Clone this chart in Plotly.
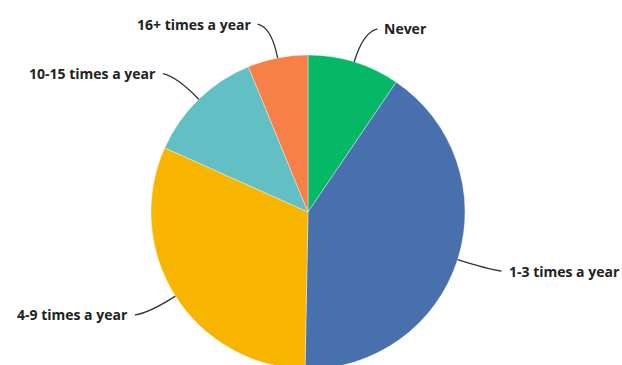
import math
import plotly.graph_objects as go

labels = ["Never", "1-3 times a year", "4-9 times a year", "10-15 times a year", "16+ times a year"]
values = [9.5, 40.8, 31.4, 12.1, 6.2]
colors = ["#05B866", "#4870AD", "#F7B500", "#62BFC4", "#F77F48"]

W, H = 622, 370
CX, CY, R = 308, 212, 157  # pixel geometry of the pie

fig = go.Figure(go.Pie(
    labels=labels, values=values, sort=False, direction="clockwise", rotation=0,
    marker=dict(colors=colors, line=dict(color="rgba(255,255,255,0.6)", width=0.6)),
    textinfo="none", hoverinfo="label+percent", showlegend=False,
    domain=dict(x=[(CX - R) / W, (CX + R) / W], y=[1 - (CY + R) / H, 1 - (CY - R) / H]),
))

def px2paper(x, y):
    return x / W, 1 - y / H

total = sum(values)
cum = 0
shapes, annotations = [], []
for lab, v in zip(labels, values):
    mid = (cum + v / 2) / total * 2 * math.pi
    cum += v
    s, c = math.sin(mid), math.cos(mid)
    p0 = (CX + R * s, CY - R * c)
    p1 = (CX + 1.2 * R * s, CY - 1.2 * R * c)
    side = 1 if s >= 0 else -1
    dy = -3 if c > 0 else 2
    p2 = (p1[0] + side * 14, p1[1] + dy)
    a0, a1, a2 = px2paper(*p0), px2paper(*p1), px2paper(*p2)
    shapes.append(dict(type="path", xref="paper", yref="paper",
                       path=f"M {a0[0]},{a0[1]} Q {a1[0]},{a1[1]} {a2[0]},{a2[1]}",
                       line=dict(color="#333333", width=1.3)))
    tx = px2paper(p2[0] + side * 5, p2[1])
    annotations.append(dict(x=tx[0], y=tx[1], xref="paper", yref="paper", text=f"<b>{lab}</b>",
                            showarrow=False, xanchor="left" if side > 0 else "right", yanchor="middle",
                            font=dict(family="Open Sans, Roboto, sans-serif", size=14, color="#222222")))

fig.update_layout(width=W, height=H, margin=dict(l=0, r=0, t=0, b=0),
                  paper_bgcolor="white", plot_bgcolor="white",
                  shapes=shapes, annotations=annotations)
fig.write_html("out.html",
               post_script="document.body.style.overflow='hidden';document.body.style.margin='0';")
